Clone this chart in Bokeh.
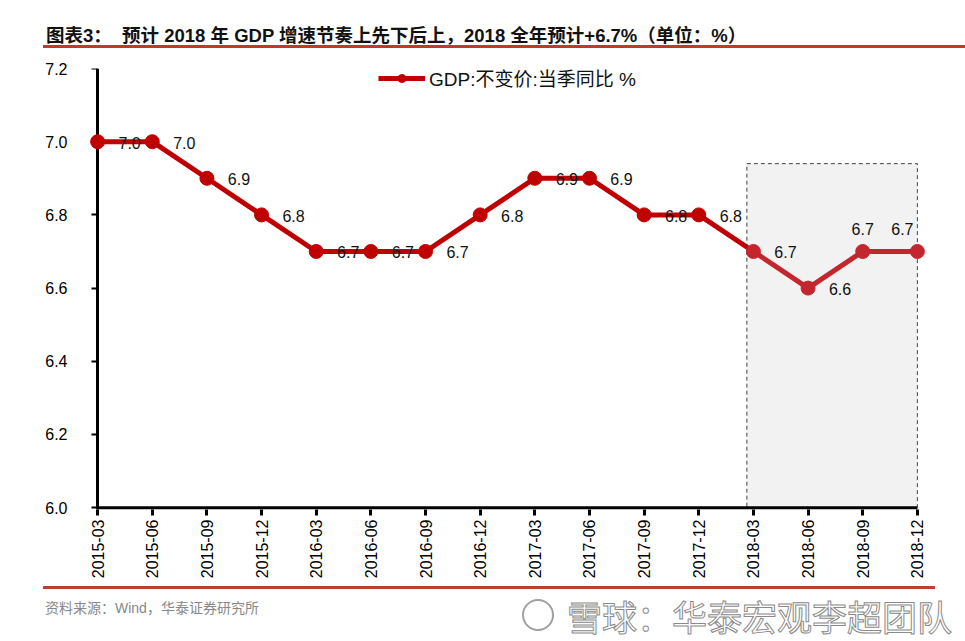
from bokeh.plotting import figure
from bokeh.models import (Div, ColumnDataSource, FixedTicker, Range1d, Legend,
                          LegendItem, LinearAxis)
from bokeh.layouts import column
from bokeh.core.properties import value
from bokeh.embed import file_html
from bokeh.resources import INLINE
import math

# ---------------- data ----------------
quarters = ["2015-03", "2015-06", "2015-09", "2015-12",
            "2016-03", "2016-06", "2016-09", "2016-12",
            "2017-03", "2017-06", "2017-09", "2017-12",
            "2018-03", "2018-06", "2018-09", "2018-12"]
gdp = [7.0, 7.0, 6.9, 6.8, 6.7, 6.7, 6.7, 6.8,
       6.9, 6.9, 6.8, 6.8, 6.7, 6.6, 6.7, 6.7]
y_ticks = [6.0, 6.2, 6.4, 6.6, 6.8, 7.0, 7.2]
y_tick_labels = ["6.0", "6.2", "6.4", "6.6", "6.8", "7.0", "7.2"]
forecast_start = "2018-03"
shade_top = 6.94
series_name = "GDP:不变价:当季同比 %"
title_text = "图表3：&nbsp;&nbsp;预计 2018 年 GDP 增速节奏上先下后上，2018 全年预计+6.7%（单位：%）"
source_text = "资料来源：Wind，华泰证券研究所"
watermark = "雪球：华泰宏观李超团队"
labels_above = ["2018-09", "2018-12"]

# ---------------- styles ----------------
DARK = "#C00000"
LIGHT = "#C4262E"
LATIN = "Liberation Sans"
FONT = "Liberation Sans, Noto Sans CJK SC"

xs = list(range(len(quarters)))
fi = quarters.index(forecast_start)
n = len(quarters)

p = figure(frame_width=858, frame_height=441,
           x_range=Range1d(-0.35, n - 1 + 0.35),
           y_range=Range1d(5.995, 7.2),
           output_backend="svg", toolbar_location=None,
           min_border_left=78, min_border_right=20,
           min_border_top=16, min_border_bottom=72,
           background_fill_color="white", border_fill_color="white",
           margin=(0, 0, 0, 0))
p.outline_line_color = None
p.grid.grid_line_color = None

# shaded forecast box
p.quad(left=[fi - 0.12], right=[n - 1], bottom=[y_ticks[0]], top=[shade_top],
       fill_color="#F2F2F2", line_color="#444444", line_width=1,
       line_dash="4 3")

# x axis line drawn as a segment from first to last quarter
p.segment(x0=[xs[0]], y0=[y_ticks[0]], x1=[xs[-1]], y1=[y_ticks[0]],
          line_color="black", line_width=3, level="overlay")

# series
l1 = p.line(xs[:fi + 1], gdp[:fi + 1], line_color=DARK, line_width=5,
            level="overlay")
l2 = p.line(xs[fi:], gdp[fi:], line_color=LIGHT, line_width=5,
            level="overlay")
c1 = p.scatter(xs[:fi], gdp[:fi], size=14, fill_color=DARK,
               line_color=DARK, level="overlay")
c2 = p.scatter(xs[fi:], gdp[fi:], size=14, fill_color=LIGHT,
               line_color=LIGHT, level="overlay")

# data labels
xo, yo = [], []
for q in quarters:
    if q in labels_above:
        xo.append(-15 if q == quarters[-1] else 0)
        yo.append(-22)
    else:
        xo.append(32)
        yo.append(1)
src = ColumnDataSource(dict(x=xs, y=gdp, t=["%.1f" % v for v in gdp],
                            xo=xo, yo=yo))
p.text(x="x", y="y", text="t", x_offset="xo", y_offset="yo", source=src,
       text_align="center", text_baseline="middle",
       text_font=value(LATIN), text_font_size="16px",
       text_color="#111111", level="overlay")

# x axis
xa = p.xaxis[0]
xa.ticker = FixedTicker(ticks=xs)
xa.major_label_overrides = {i: q for i, q in zip(xs, quarters)}
xa.major_label_orientation = math.pi / 2
xa.axis_line_color = None
xa.major_tick_line_color = "black"
xa.major_tick_line_width = 3
xa.major_tick_out = 6
xa.major_tick_in = 0
xa.minor_tick_line_color = None
xa.major_label_standoff = 4
xa.major_label_text_font = LATIN
xa.major_label_text_font_size = "16px"
xa.major_label_text_color = "black"

# y axis labels (at the frame's left edge)
ya = p.yaxis[0]
ya.ticker = FixedTicker(ticks=y_ticks)
ya.major_label_overrides = {t: l for t, l in zip(y_ticks, y_tick_labels)}
ya.axis_line_color = None
ya.major_tick_line_color = None
ya.minor_tick_line_color = None
ya.major_label_standoff = 5
ya.major_label_text_font = LATIN
ya.major_label_text_font_size = "16px"
ya.major_label_text_color = "black"

# y axis line and ticks at the first quarter
ya2 = LinearAxis(fixed_location=xs[0], ticker=FixedTicker(ticks=y_ticks))
ya2.axis_line_color = "black"
ya2.axis_line_width = 3
ya2.major_tick_line_color = "black"
ya2.major_tick_line_width = 2
ya2.major_tick_out = 6
ya2.major_tick_in = 0
ya2.minor_tick_line_color = None
ya2.major_label_text_color = None
ya2.major_label_text_font_size = "0px"
p.add_layout(ya2, "left")

legend = Legend(items=[LegendItem(label=series_name, renderers=[l1, c1])],
                location=(300, 418), padding=0, margin=0,
                glyph_width=47, glyph_height=20, label_standoff=4,
                label_text_font=FONT, label_text_font_size="19px",
                label_text_color="#111111",
                border_line_color=None, background_fill_alpha=0)
p.add_layout(legend)

title_div = Div(
    text=('<div style="position:relative;width:922px;height:48px;'
          'margin-left:43px;border-bottom:3px solid #C0392B;">'
          '<span style="position:absolute;left:3px;top:27px;white-space:nowrap;'
          'line-height:1;font-weight:bold;font-size:18.5px;color:#111;'
          "font-family:'Liberation Sans','Noto Sans CJK SC';\">"
          + title_text + '</span></div>'),
    width=965, height=52, margin=(0, 0, 0, 0))

footer_div = Div(
    text=('<div style="position:relative;width:892px;height:48px;'
          'margin-left:43px;margin-top:5px;border-top:3px solid #B9412F;">'
          '<span style="position:absolute;left:2px;top:12px;white-space:nowrap;'
          'line-height:1;font-size:14px;color:#888;'
          "font-family:'Liberation Sans','Noto Sans CJK SC';\">"
          + source_text + '</span>'
          '<div style="position:absolute;left:479px;top:10px;width:32px;height:32px;'
          'border-radius:50%;border:2px solid #a0a0a0;"></div>'
          '<span style="position:absolute;left:524px;top:9px;white-space:nowrap;'
          'line-height:1;font-size:35px;color:white;-webkit-text-stroke:1px #8a8a8a;'
          "font-family:'Noto Sans CJK SC';\">"
          + watermark + '</span></div>'),
    width=965, height=56, margin=(0, 0, 0, 0))

layout = column(title_div, p, footer_div, spacing=0)
open("out.html", "w").write(file_html(layout, INLINE))
